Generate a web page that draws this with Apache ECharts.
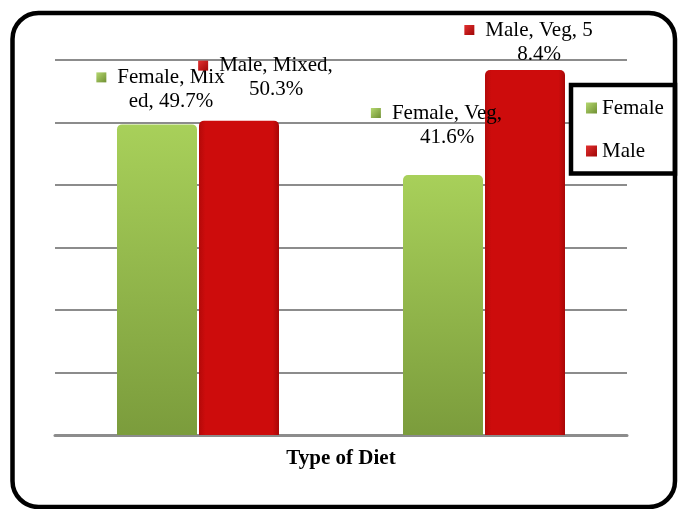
<!DOCTYPE html>
<html>
<head>
<meta charset="utf-8">
<script src="https://cdn.jsdelivr.net/npm/echarts@6/dist/echarts.min.js"></script>
<style>html,body{margin:0;padding:0;background:#fff;}#c{width:678px;height:509px;}</style>
</head>
<body>
<div id="c"></div>
<script>
var categories = ['Mixed', 'Veg'];
var seriesNames = ['Female', 'Male'];
var femaleValues = [49.7, 41.6];
var maleValues = [50.3, 58.4];
var yTicks = [0, 10, 20, 30, 40, 50, 60];

// Excel-style wrapped data labels: character index where each label wraps
var femaleBreaks = [11, 12];
var maleBreaks = [12, 12];
var femaleOffsets = [[14, -6], [4, -21]];
var maleOffsets = [[37, -14], [14, 1]];

var serif = '"Liberation Serif", "Times New Roman", serif';

function labelText(name, cat, v, br) {
  var s = name + ', ' + cat + ', ' + v.toFixed(1) + '%';
  return '{m|}{g|}{t|' + s.slice(0, br) + '}{s|}\n{t|' + s.slice(br).trim() + '}';
}

var greenGrad = new echarts.graphic.LinearGradient(0, 0, 0, 1, [
  {offset: 0, color: '#a8d05a'}, {offset: 1, color: '#7b9c3c'}]);
var redGrad = new echarts.graphic.LinearGradient(0, 0, 1, 0, [
  {offset: 0, color: '#b40909'}, {offset: 0.08, color: '#cd0c0c'},
  {offset: 0.92, color: '#cd0c0c'}, {offset: 1, color: '#a80707'}]);
var greenMark = new echarts.graphic.LinearGradient(0, 0, 1, 1, [
  {offset: 0, color: '#b5d870'}, {offset: 1, color: '#6f8f32'}]);
var redMark = new echarts.graphic.LinearGradient(0, 0, 1, 1, [
  {offset: 0, color: '#e23030'}, {offset: 1, color: '#a00606'}]);

function makeRich(markColor) {
  return {
    m: {width: 10, height: 10, backgroundColor: markColor},
    g: {width: 11},
    s: {width: 21},
    t: {fontFamily: serif, fontSize: 21, color: '#000', lineHeight: 24}
  };
}

function buildData(values, name, breaks, offsets, markColor) {
  return values.map(function (v, i) {
    return {
      value: v,
      label: {
        show: true,
        position: 'top',
        offset: offsets[i],
        align: 'center',
        lineHeight: 24,
        formatter: labelText(name, categories[i], v, breaks[i]),
        rich: makeRich(markColor)
      }
    };
  });
}

var chart = echarts.init(document.getElementById('c'));
chart.setOption({
  animation: false,
  backgroundColor: '#fff',
  grid: {left: 55, right: 51, top: 60, bottom: 74},
  xAxis: {
    type: 'category',
    data: categories,
    axisLabel: {show: false},
    axisTick: {show: false},
    axisLine: {lineStyle: {color: '#8c8c8c', width: 3}},
    name: 'Type of Diet',
    nameLocation: 'middle',
    nameGap: 13,
    nameTextStyle: {fontFamily: serif, fontSize: 21, fontWeight: 'bold', color: '#000'}
  },
  yAxis: {
    type: 'value',
    min: yTicks[0],
    max: yTicks[yTicks.length - 1],
    interval: yTicks[1] - yTicks[0],
    axisLabel: {show: false},
    axisLine: {show: false},
    axisTick: {show: false},
    splitLine: {lineStyle: {color: '#8c8c8c', width: 2}}
  },
  legend: {
    left: 586,
    top: 97,
    orient: 'vertical',
    padding: 0,
    itemWidth: 11,
    itemHeight: 11,
    itemGap: 21,
    z: 20,
    icon: 'rect',
    textStyle: {fontFamily: serif, fontSize: 21, color: '#000', lineHeight: 22},
    data: [
      {name: seriesNames[0], itemStyle: {color: greenMark}},
      {name: seriesNames[1], itemStyle: {color: redMark}}
    ]
  },
  graphic: [
    {type: 'rect', z: 15, shape: {x: 571, y: 85, width: 104, height: 88.5},
     style: {fill: '#fff', stroke: '#000', lineWidth: 4.5}},
    {type: 'rect', z: 16, shape: {x: 12.5, y: 13, width: 662.5, height: 494, r: 26},
     style: {fill: 'none', stroke: '#000', lineWidth: 4.5}}
  ],
  series: [
    {
      name: seriesNames[0], type: 'bar', barWidth: 80, barGap: '2.5%',
      itemStyle: {color: greenGrad, borderRadius: [5, 5, 0, 0]},
      data: buildData(femaleValues, seriesNames[0], femaleBreaks, femaleOffsets, greenMark)
    },
    {
      name: seriesNames[1], type: 'bar', barWidth: 80, barGap: '2.5%',
      itemStyle: {color: redGrad, borderRadius: [5, 5, 0, 0]},
      data: buildData(maleValues, seriesNames[1], maleBreaks, maleOffsets, redMark)
    }
  ]
});
</script>
</body>
</html>
